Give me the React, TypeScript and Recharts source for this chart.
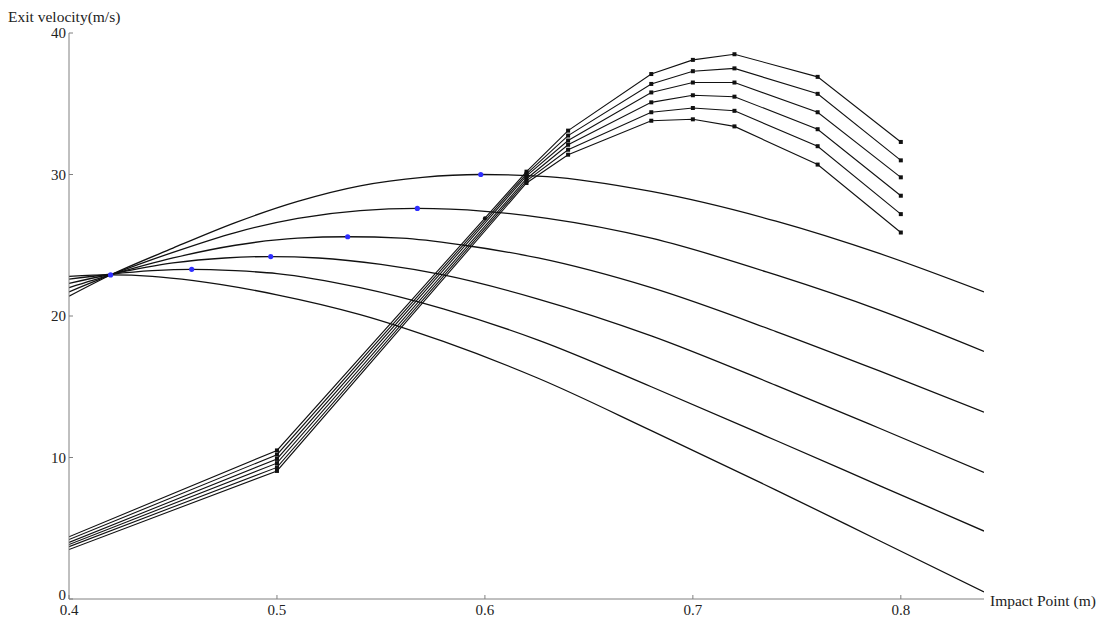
import React from 'react'
import {
  ComposedChart, Line, Scatter, XAxis, YAxis, ReferenceDot,
} from 'recharts'

const FONT = '"Liberation Serif", "Times New Roman", serif'
const AXIS_COLOR = '#808080'
const INK = '#111'
const BLUE = '#2f2fff'

// ── Tick labels ──────────────────────────────────────────────────────────────
const X_TICKS = [0.4, 0.5, 0.6, 0.7, 0.8]
const Y_TICKS = [0, 10, 20, 30, 40]

// ── Smooth exit-velocity curves (top peak to lowest peak) ───────────────────
const curve1 = [
  { x: 0.40, y: 21.4 }, { x: 0.42, y: 22.9 }, { x: 0.45, y: 24.8 }, { x: 0.48, y: 26.6 },
  { x: 0.51, y: 28.1 }, { x: 0.54, y: 29.2 }, { x: 0.57, y: 29.8 }, { x: 0.598, y: 30.0 },
  { x: 0.63, y: 29.85 }, { x: 0.68, y: 28.8 }, { x: 0.74, y: 26.7 }, { x: 0.79, y: 24.4 },
  { x: 0.84, y: 21.7 },
]
const curve2 = [
  { x: 0.40, y: 21.7 }, { x: 0.42, y: 22.9 }, { x: 0.45, y: 24.5 }, { x: 0.48, y: 25.9 },
  { x: 0.51, y: 26.9 }, { x: 0.54, y: 27.45 }, { x: 0.5675, y: 27.6 }, { x: 0.60, y: 27.4 },
  { x: 0.63, y: 26.9 }, { x: 0.68, y: 25.5 }, { x: 0.74, y: 22.9 }, { x: 0.79, y: 20.4 },
  { x: 0.84, y: 17.5 },
]
const curve3 = [
  { x: 0.40, y: 22.0 }, { x: 0.42, y: 22.9 }, { x: 0.45, y: 24.1 }, { x: 0.48, y: 25.0 },
  { x: 0.51, y: 25.5 }, { x: 0.534, y: 25.6 }, { x: 0.56, y: 25.5 }, { x: 0.59, y: 25.0 },
  { x: 0.6256, y: 24.1 }, { x: 0.68, y: 22.0 }, { x: 0.74, y: 18.9 }, { x: 0.79, y: 16.1 },
  { x: 0.84, y: 13.2 },
]
const curve4 = [
  { x: 0.40, y: 22.3 }, { x: 0.42, y: 22.95 }, { x: 0.45, y: 23.75 }, { x: 0.475, y: 24.1 },
  { x: 0.497, y: 24.2 }, { x: 0.52, y: 24.1 }, { x: 0.55, y: 23.65 }, { x: 0.58, y: 22.9 },
  { x: 0.6256, y: 21.2 }, { x: 0.68, y: 18.6 }, { x: 0.74, y: 15.1 }, { x: 0.79, y: 12.05 },
  { x: 0.84, y: 8.95 },
]
const curve5 = [
  { x: 0.40, y: 22.6 }, { x: 0.42, y: 22.95 }, { x: 0.44, y: 23.2 }, { x: 0.459, y: 23.3 },
  { x: 0.48, y: 23.2 }, { x: 0.50, y: 23.0 }, { x: 0.54, y: 22.0 }, { x: 0.58, y: 20.5 },
  { x: 0.6256, y: 18.3 }, { x: 0.68, y: 15.0 }, { x: 0.74, y: 11.2 }, { x: 0.79, y: 8.0 },
  { x: 0.84, y: 4.8 },
]
const curve6 = [
  { x: 0.40, y: 22.8 }, { x: 0.42, y: 22.9 }, { x: 0.44, y: 22.8 }, { x: 0.46, y: 22.5 },
  { x: 0.50, y: 21.5 }, { x: 0.54, y: 20.1 }, { x: 0.58, y: 18.2 }, { x: 0.6256, y: 15.6 },
  { x: 0.68, y: 11.9 }, { x: 0.74, y: 7.7 }, { x: 0.79, y: 4.1 }, { x: 0.84, y: 0.5 },
]
const CURVES = [curve1, curve2, curve3, curve4, curve5, curve6]

// blue markers at each curve's maximum
const peaks = [
  { x: 0.42, y: 22.9 }, { x: 0.459, y: 23.3 }, { x: 0.497, y: 24.2 },
  { x: 0.534, y: 25.6 }, { x: 0.5675, y: 27.6 }, { x: 0.598, y: 30.0 },
]

// ── Polyline series with square markers ─────────────────────────────────────
const POLY_X = [0.40, 0.50, 0.62, 0.64, 0.68, 0.70, 0.72, 0.76, 0.80]
const poly1 = [4.4, 10.5, 30.2, 33.1, 37.1, 38.1, 38.5, 36.9, 32.3]
const poly2 = [4.2, 10.2, 30.05, 32.75, 36.4, 37.3, 37.5, 35.7, 31.0]
const poly3 = [4.0, 9.9, 29.9, 32.4, 35.8, 36.5, 36.5, 34.4, 29.8]
const poly4 = [3.85, 9.6, 29.7, 32.1, 35.1, 35.6, 35.5, 33.2, 28.5]
const poly5 = [3.7, 9.3, 29.55, 31.75, 34.4, 34.7, 34.5, 32.0, 27.2]
const poly6 = [3.5, 9.05, 29.4, 31.4, 33.8, 33.9, 33.4, 30.7, 25.9]
const POLYS = [poly1, poly2, poly3, poly4, poly5, poly6].map((ys) =>
  POLY_X.map((x, i) => ({ x, y: ys[i] })),
)

const TICK_STYLE = { fontSize: 15, fill: '#222', fontFamily: FONT }

// y tick: "0" sits a little above the axis line, as in the original
function YTick(props: any) {
  const { x, y, payload } = props
  const lift = payload.value === 0 ? -4 : 0
  return (
    <text x={x} y={y + lift} dy="0.35em" textAnchor="end" {...TICK_STYLE}>
      {payload.value}
    </text>
  )
}

function squareDot(props: any) {
  const { cx, cy, index } = props
  if (index === 0 || cx == null || cy == null) return <g key={`sq-${index}`} />
  return <rect key={`sq-${index}`} x={cx - 2} y={cy - 2} width={4} height={4} fill={INK} />
}

function blueDot(props: any) {
  return <circle cx={props.cx} cy={props.cy} r={2.6} fill={BLUE} />
}

export default function App() {
  return (
    <div style={{ position: 'absolute', left: 0, top: 0, width: 1110, height: 620, background: '#fff' }}>
      <ComposedChart width={1110} height={620} margin={{ top: 33, right: 126, bottom: 0, left: 0 }}>
        <XAxis
          type="number"
          dataKey="x"
          domain={[0.4, 0.84]}
          ticks={X_TICKS}
          allowDataOverflow
          height={21}
          tick={TICK_STYLE}
          tickSize={-4}
          tickMargin={9}
          axisLine={{ stroke: AXIS_COLOR }}
          tickLine={{ stroke: AXIS_COLOR }}
        />
        <YAxis
          type="number"
          dataKey="y"
          domain={[0, 40]}
          ticks={Y_TICKS}
          allowDataOverflow
          width={69}
          tick={<YTick />}
          tickSize={-4}
          tickMargin={7}
          axisLine={{ stroke: AXIS_COLOR }}
          tickLine={{ stroke: AXIS_COLOR }}
        />
        {CURVES.map((d, i) => (
          <Line
            key={`c${i}`}
            data={d}
            dataKey="y"
            type="monotone"
            stroke={INK}
            strokeWidth={1.3}
            dot={false}
            activeDot={false}
            isAnimationActive={false}
          />
        ))}
        {POLYS.map((d, i) => (
          <Line
            key={`p${i}`}
            data={d}
            dataKey="y"
            type="linear"
            stroke={INK}
            strokeWidth={1.1}
            dot={squareDot}
            activeDot={false}
            isAnimationActive={false}
          />
        ))}
        <Scatter data={peaks} dataKey="y" shape={blueDot} isAnimationActive={false} />
        <ReferenceDot x={0.6} y={26.9} r={2} fill={INK} stroke="none" />
      </ComposedChart>
      <div style={{ position: 'absolute', left: 8, top: 8, fontFamily: FONT, fontSize: 15.5, color: '#222', whiteSpace: 'nowrap' }}>
        Exit velocity(m/s)
      </div>
      <div style={{ position: 'absolute', left: 990, top: 592, fontFamily: FONT, fontSize: 15.5, color: '#222', whiteSpace: 'nowrap' }}>
        Impact Point (m)
      </div>
    </div>
  )
}
